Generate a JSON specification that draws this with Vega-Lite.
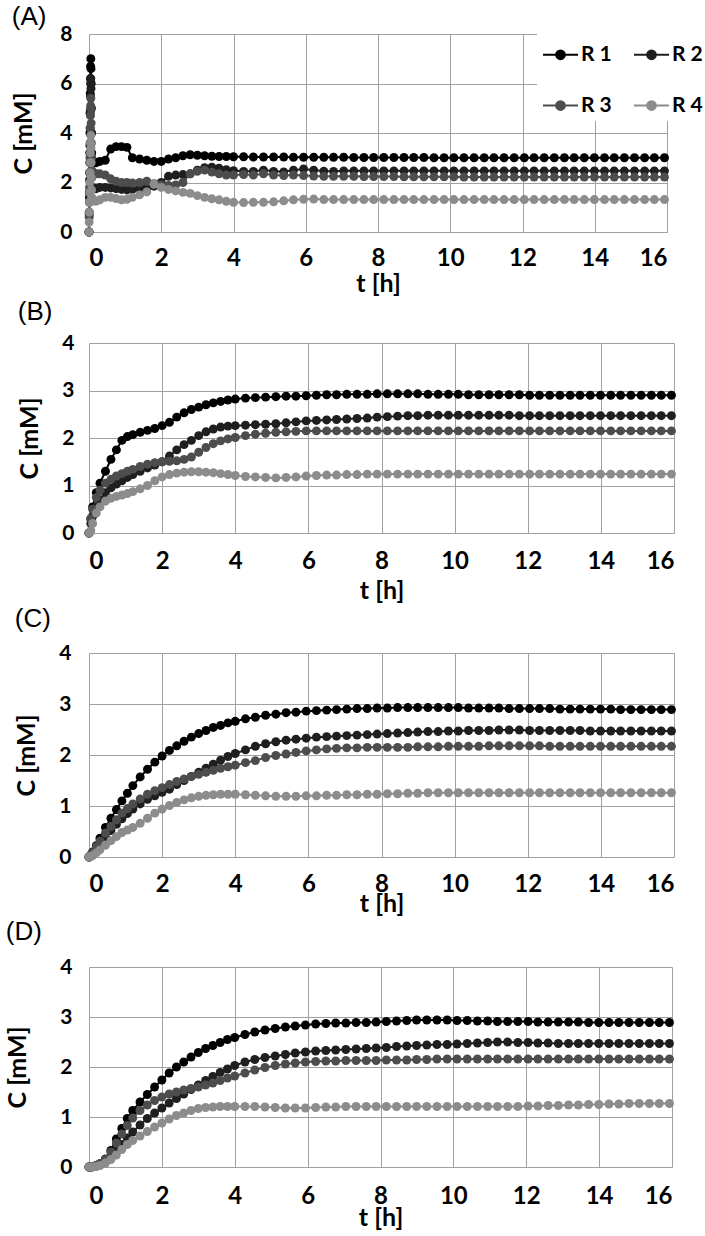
{
"$schema":"https://vega.github.io/schema/vega-lite/v6.json",
"background":"white",
"padding":{"left":5,"top":3,"right":0,"bottom":0},
"spacing":3,
"config":{
"view":{"stroke":null},
"font":"Lato",
"axis":{"domain":false,"ticks":false,"tickSize":0,"grid":true,"gridColor":"#a0a0a0","gridWidth":1,"labelFont":"Lato","labelFontWeight":"bold","labelColor":"#000000","titleFont":"Lato","titleFontWeight":"bold","titleColor":"#000000"},
"axisX":{"labelFontSize":24,"titleFontSize":25},
"axisY":{"labelFontSize":21,"titleFontSize":25},
"title":{"font":"Liberation Sans","fontSize":26,"fontWeight":"normal","anchor":"start","frame":"bounds","color":"#000000","baseline":"bottom"}
},
"datasets":{
"A":[
{"s":"R 1","t":0,"c":0},{"s":"R 1","t":0.005,"c":0.8},{"s":"R 1","t":0.01,"c":1.6},{"s":"R 1","t":0.015,"c":2.4},{"s":"R 1","t":0.02,"c":3.2},{"s":"R 1","t":0.025,"c":4},{"s":"R 1","t":0.03,"c":4.8},{"s":"R 1","t":0.035,"c":5.6},{"s":"R 1","t":0.04,"c":6.2},{"s":"R 1","t":0.045,"c":6.7},{"s":"R 1","t":0.05,"c":7},{"s":"R 1","t":0.055,"c":6.6},{"s":"R 1","t":0.06,"c":6},{"s":"R 1","t":0.065,"c":5},{"s":"R 1","t":0.07,"c":4},{"s":"R 1","t":0.075,"c":3.2},
{"s":"R 1","t":0.1,"c":2.9},{"s":"R 1","t":0.15,"c":2.8},{"s":"R 1","t":0.2,"c":2.8},{"s":"R 1","t":0.3,"c":2.85},{"s":"R 1","t":0.45,"c":2.9},{"s":"R 1","t":0.6,"c":3.35},{"s":"R 1","t":0.75,"c":3.45},{"s":"R 1","t":0.9,"c":3.45},{"s":"R 1","t":1.05,"c":3.42},{"s":"R 1","t":1.2,"c":3},{"s":"R 1","t":1.4,"c":2.95},{"s":"R 1","t":1.6,"c":2.9},{"s":"R 1","t":1.8,"c":2.85},{"s":"R 1","t":2,"c":2.85},{"s":"R 1","t":2.2,"c":2.95},{"s":"R 1","t":2.4,"c":3},{"s":"R 1","t":2.6,"c":3.08},{"s":"R 1","t":2.8,"c":3.12},{"s":"R 1","t":3,"c":3.1},{"s":"R 1","t":3.2,"c":3.08},{"s":"R 1","t":3.4,"c":3.06},{"s":"R 1","t":3.6,"c":3.05},{"s":"R 1","t":3.8,"c":3.05},
{"s":"R 1","t":4,"c":3.04},{"s":"R 1","t":4.28,"c":3.04},{"s":"R 1","t":4.55,"c":3.03},{"s":"R 1","t":4.83,"c":3.03},{"s":"R 1","t":5.11,"c":3.03},{"s":"R 1","t":5.39,"c":3.03},{"s":"R 1","t":5.66,"c":3.02},{"s":"R 1","t":5.94,"c":3.02},{"s":"R 1","t":6.22,"c":3.02},{"s":"R 1","t":6.5,"c":3.02},{"s":"R 1","t":6.77,"c":3.02},{"s":"R 1","t":7.05,"c":3.02},{"s":"R 1","t":7.33,"c":3.01},{"s":"R 1","t":7.61,"c":3.01},{"s":"R 1","t":7.88,"c":3.01},{"s":"R 1","t":8.16,"c":3.01},{"s":"R 1","t":8.44,"c":3.01},{"s":"R 1","t":8.72,"c":3.01},{"s":"R 1","t":8.99,"c":3.01},{"s":"R 1","t":9.27,"c":3.01},{"s":"R 1","t":9.55,"c":3},{"s":"R 1","t":9.83,"c":3},{"s":"R 1","t":10.1,"c":3},{"s":"R 1","t":10.38,"c":3},{"s":"R 1","t":10.66,"c":3},{"s":"R 1","t":10.94,"c":3},{"s":"R 1","t":11.21,"c":3},{"s":"R 1","t":11.49,"c":3},{"s":"R 1","t":11.77,"c":3},{"s":"R 1","t":12.05,"c":3},{"s":"R 1","t":12.32,"c":3},{"s":"R 1","t":12.6,"c":3},{"s":"R 1","t":12.88,"c":3},{"s":"R 1","t":13.16,"c":3},{"s":"R 1","t":13.43,"c":3},{"s":"R 1","t":13.71,"c":3},{"s":"R 1","t":13.99,"c":3},{"s":"R 1","t":14.27,"c":3},{"s":"R 1","t":14.54,"c":3},{"s":"R 1","t":14.82,"c":3},{"s":"R 1","t":15.1,"c":3},{"s":"R 1","t":15.38,"c":3},{"s":"R 1","t":15.65,"c":3},{"s":"R 1","t":15.93,"c":3},
{"s":"R 2","t":0,"c":0},{"s":"R 2","t":0.005,"c":0.7},{"s":"R 2","t":0.01,"c":1.4},{"s":"R 2","t":0.015,"c":2.1},{"s":"R 2","t":0.02,"c":2.8},{"s":"R 2","t":0.025,"c":3.5},{"s":"R 2","t":0.03,"c":4.2},{"s":"R 2","t":0.035,"c":4.9},{"s":"R 2","t":0.04,"c":5.5},{"s":"R 2","t":0.045,"c":6},{"s":"R 2","t":0.05,"c":6.2},{"s":"R 2","t":0.055,"c":5.8},{"s":"R 2","t":0.06,"c":5},{"s":"R 2","t":0.065,"c":4},{"s":"R 2","t":0.07,"c":3},{"s":"R 2","t":0.075,"c":2.2},
{"s":"R 2","t":0.1,"c":1.8},{"s":"R 2","t":0.15,"c":1.75},{"s":"R 2","t":0.2,"c":1.75},{"s":"R 2","t":0.3,"c":1.8},{"s":"R 2","t":0.45,"c":1.8},{"s":"R 2","t":0.6,"c":1.78},{"s":"R 2","t":0.75,"c":1.75},{"s":"R 2","t":0.9,"c":1.72},{"s":"R 2","t":1.05,"c":1.7},{"s":"R 2","t":1.2,"c":1.72},{"s":"R 2","t":1.4,"c":1.75},{"s":"R 2","t":1.6,"c":1.8},{"s":"R 2","t":1.8,"c":1.85},{"s":"R 2","t":2,"c":2},{"s":"R 2","t":2.2,"c":2.25},{"s":"R 2","t":2.4,"c":2.3},{"s":"R 2","t":2.6,"c":2.32},{"s":"R 2","t":2.8,"c":2.35},{"s":"R 2","t":3,"c":2.5},{"s":"R 2","t":3.2,"c":2.6},{"s":"R 2","t":3.4,"c":2.62},{"s":"R 2","t":3.6,"c":2.58},{"s":"R 2","t":3.8,"c":2.52},
{"s":"R 2","t":4,"c":2.48},{"s":"R 2","t":4.28,"c":2.45},{"s":"R 2","t":4.55,"c":2.45},{"s":"R 2","t":4.83,"c":2.5},{"s":"R 2","t":5.11,"c":2.45},{"s":"R 2","t":5.39,"c":2.43},{"s":"R 2","t":5.66,"c":2.5},{"s":"R 2","t":5.94,"c":2.55},{"s":"R 2","t":6.22,"c":2.5},{"s":"R 2","t":6.5,"c":2.46},{"s":"R 2","t":6.77,"c":2.45},{"s":"R 2","t":7.05,"c":2.47},{"s":"R 2","t":7.33,"c":2.47},{"s":"R 2","t":7.61,"c":2.47},{"s":"R 2","t":7.88,"c":2.47},{"s":"R 2","t":8.16,"c":2.47},{"s":"R 2","t":8.44,"c":2.47},{"s":"R 2","t":8.72,"c":2.47},{"s":"R 2","t":8.99,"c":2.47},{"s":"R 2","t":9.27,"c":2.47},{"s":"R 2","t":9.55,"c":2.47},{"s":"R 2","t":9.83,"c":2.47},{"s":"R 2","t":10.1,"c":2.47},{"s":"R 2","t":10.38,"c":2.47},{"s":"R 2","t":10.66,"c":2.47},{"s":"R 2","t":10.94,"c":2.47},{"s":"R 2","t":11.21,"c":2.47},{"s":"R 2","t":11.49,"c":2.47},{"s":"R 2","t":11.77,"c":2.47},{"s":"R 2","t":12.05,"c":2.47},{"s":"R 2","t":12.32,"c":2.47},{"s":"R 2","t":12.6,"c":2.47},{"s":"R 2","t":12.88,"c":2.47},{"s":"R 2","t":13.16,"c":2.47},{"s":"R 2","t":13.43,"c":2.47},{"s":"R 2","t":13.71,"c":2.47},{"s":"R 2","t":13.99,"c":2.47},{"s":"R 2","t":14.27,"c":2.47},{"s":"R 2","t":14.54,"c":2.47},{"s":"R 2","t":14.82,"c":2.47},{"s":"R 2","t":15.1,"c":2.47},{"s":"R 2","t":15.38,"c":2.47},{"s":"R 2","t":15.65,"c":2.47},{"s":"R 2","t":15.93,"c":2.47},
{"s":"R 3","t":0,"c":0},{"s":"R 3","t":0.005,"c":0.6},{"s":"R 3","t":0.01,"c":1.2},{"s":"R 3","t":0.015,"c":1.8},{"s":"R 3","t":0.02,"c":2.4},{"s":"R 3","t":0.025,"c":3},{"s":"R 3","t":0.03,"c":3.6},{"s":"R 3","t":0.035,"c":4.2},{"s":"R 3","t":0.04,"c":4.7},{"s":"R 3","t":0.045,"c":5.1},{"s":"R 3","t":0.05,"c":5.4},{"s":"R 3","t":0.055,"c":5},{"s":"R 3","t":0.06,"c":4.4},{"s":"R 3","t":0.065,"c":3.6},{"s":"R 3","t":0.07,"c":3},{"s":"R 3","t":0.075,"c":2.5},
{"s":"R 3","t":0.1,"c":2.3},{"s":"R 3","t":0.15,"c":2.35},{"s":"R 3","t":0.2,"c":2.35},{"s":"R 3","t":0.3,"c":2.35},{"s":"R 3","t":0.45,"c":2.3},{"s":"R 3","t":0.6,"c":2.15},{"s":"R 3","t":0.75,"c":2.05},{"s":"R 3","t":0.9,"c":2},{"s":"R 3","t":1.05,"c":2},{"s":"R 3","t":1.2,"c":1.98},{"s":"R 3","t":1.4,"c":2},{"s":"R 3","t":1.6,"c":2.05},{"s":"R 3","t":1.8,"c":1.95},{"s":"R 3","t":2,"c":1.9},{"s":"R 3","t":2.2,"c":1.88},{"s":"R 3","t":2.4,"c":1.9},{"s":"R 3","t":2.6,"c":2},{"s":"R 3","t":2.8,"c":2.35},{"s":"R 3","t":3,"c":2.45},{"s":"R 3","t":3.2,"c":2.5},{"s":"R 3","t":3.4,"c":2.42},{"s":"R 3","t":3.6,"c":2.35},{"s":"R 3","t":3.8,"c":2.3},
{"s":"R 3","t":4,"c":2.3},{"s":"R 3","t":4.28,"c":2.32},{"s":"R 3","t":4.55,"c":2.3},{"s":"R 3","t":4.83,"c":2.35},{"s":"R 3","t":5.11,"c":2.3},{"s":"R 3","t":5.39,"c":2.28},{"s":"R 3","t":5.66,"c":2.3},{"s":"R 3","t":5.94,"c":2.28},{"s":"R 3","t":6.22,"c":2.26},{"s":"R 3","t":6.5,"c":2.25},{"s":"R 3","t":6.77,"c":2.25},{"s":"R 3","t":7.05,"c":2.25},{"s":"R 3","t":7.33,"c":2.25},{"s":"R 3","t":7.61,"c":2.24},{"s":"R 3","t":7.88,"c":2.24},{"s":"R 3","t":8.16,"c":2.24},{"s":"R 3","t":8.44,"c":2.24},{"s":"R 3","t":8.72,"c":2.23},{"s":"R 3","t":8.99,"c":2.23},{"s":"R 3","t":9.27,"c":2.23},{"s":"R 3","t":9.55,"c":2.23},{"s":"R 3","t":9.83,"c":2.23},{"s":"R 3","t":10.1,"c":2.23},{"s":"R 3","t":10.38,"c":2.22},{"s":"R 3","t":10.66,"c":2.22},{"s":"R 3","t":10.94,"c":2.22},{"s":"R 3","t":11.21,"c":2.22},{"s":"R 3","t":11.49,"c":2.22},{"s":"R 3","t":11.77,"c":2.22},{"s":"R 3","t":12.05,"c":2.22},{"s":"R 3","t":12.32,"c":2.22},{"s":"R 3","t":12.6,"c":2.22},{"s":"R 3","t":12.88,"c":2.22},{"s":"R 3","t":13.16,"c":2.22},{"s":"R 3","t":13.43,"c":2.22},{"s":"R 3","t":13.71,"c":2.22},{"s":"R 3","t":13.99,"c":2.22},{"s":"R 3","t":14.27,"c":2.22},{"s":"R 3","t":14.54,"c":2.22},{"s":"R 3","t":14.82,"c":2.22},{"s":"R 3","t":15.1,"c":2.22},{"s":"R 3","t":15.38,"c":2.22},{"s":"R 3","t":15.65,"c":2.22},{"s":"R 3","t":15.93,"c":2.22},
{"s":"R 4","t":0,"c":0},{"s":"R 4","t":0.005,"c":0.4},{"s":"R 4","t":0.01,"c":0.8},{"s":"R 4","t":0.015,"c":1.2},{"s":"R 4","t":0.02,"c":1.6},{"s":"R 4","t":0.025,"c":2},{"s":"R 4","t":0.03,"c":2.4},{"s":"R 4","t":0.035,"c":2.8},{"s":"R 4","t":0.04,"c":3.2},{"s":"R 4","t":0.045,"c":3.6},{"s":"R 4","t":0.05,"c":3.9},{"s":"R 4","t":0.055,"c":3.4},{"s":"R 4","t":0.06,"c":2.8},{"s":"R 4","t":0.065,"c":2.2},{"s":"R 4","t":0.07,"c":1.7},{"s":"R 4","t":0.075,"c":1.4},
{"s":"R 4","t":0.1,"c":1.3},{"s":"R 4","t":0.15,"c":1.25},{"s":"R 4","t":0.2,"c":1.25},{"s":"R 4","t":0.3,"c":1.3},{"s":"R 4","t":0.45,"c":1.4},{"s":"R 4","t":0.6,"c":1.4},{"s":"R 4","t":0.75,"c":1.35},{"s":"R 4","t":0.9,"c":1.3},{"s":"R 4","t":1.05,"c":1.32},{"s":"R 4","t":1.2,"c":1.4},{"s":"R 4","t":1.4,"c":1.5},{"s":"R 4","t":1.6,"c":1.62},{"s":"R 4","t":1.8,"c":1.93},{"s":"R 4","t":2,"c":1.8},{"s":"R 4","t":2.2,"c":1.72},{"s":"R 4","t":2.4,"c":1.66},{"s":"R 4","t":2.6,"c":1.6},{"s":"R 4","t":2.8,"c":1.56},{"s":"R 4","t":3,"c":1.47},{"s":"R 4","t":3.2,"c":1.4},{"s":"R 4","t":3.4,"c":1.34},{"s":"R 4","t":3.6,"c":1.3},{"s":"R 4","t":3.8,"c":1.24},
{"s":"R 4","t":4,"c":1.2},{"s":"R 4","t":4.28,"c":1.19},{"s":"R 4","t":4.55,"c":1.2},{"s":"R 4","t":4.83,"c":1.2},{"s":"R 4","t":5.11,"c":1.22},{"s":"R 4","t":5.39,"c":1.26},{"s":"R 4","t":5.66,"c":1.3},{"s":"R 4","t":5.94,"c":1.32},{"s":"R 4","t":6.22,"c":1.33},{"s":"R 4","t":6.5,"c":1.31},{"s":"R 4","t":6.77,"c":1.31},{"s":"R 4","t":7.05,"c":1.31},{"s":"R 4","t":7.33,"c":1.31},{"s":"R 4","t":7.61,"c":1.31},{"s":"R 4","t":7.88,"c":1.31},{"s":"R 4","t":8.16,"c":1.31},{"s":"R 4","t":8.44,"c":1.31},{"s":"R 4","t":8.72,"c":1.31},{"s":"R 4","t":8.99,"c":1.31},{"s":"R 4","t":9.27,"c":1.31},{"s":"R 4","t":9.55,"c":1.31},{"s":"R 4","t":9.83,"c":1.31},{"s":"R 4","t":10.1,"c":1.31},{"s":"R 4","t":10.38,"c":1.31},{"s":"R 4","t":10.66,"c":1.31},{"s":"R 4","t":10.94,"c":1.31},{"s":"R 4","t":11.21,"c":1.31},{"s":"R 4","t":11.49,"c":1.31},{"s":"R 4","t":11.77,"c":1.31},{"s":"R 4","t":12.05,"c":1.31},{"s":"R 4","t":12.32,"c":1.31},{"s":"R 4","t":12.6,"c":1.31},{"s":"R 4","t":12.88,"c":1.31},{"s":"R 4","t":13.16,"c":1.31},{"s":"R 4","t":13.43,"c":1.31},{"s":"R 4","t":13.71,"c":1.31},{"s":"R 4","t":13.99,"c":1.31},{"s":"R 4","t":14.27,"c":1.31},{"s":"R 4","t":14.54,"c":1.31},{"s":"R 4","t":14.82,"c":1.31},{"s":"R 4","t":15.1,"c":1.31},{"s":"R 4","t":15.38,"c":1.31},{"s":"R 4","t":15.65,"c":1.31},{"s":"R 4","t":15.93,"c":1.31}
],
"B":[
{"s":"R 1","t":0,"c":0},{"s":"R 1","t":0.05,"c":0.3},{"s":"R 1","t":0.1,"c":0.55},{"s":"R 1","t":0.2,"c":0.85},{"s":"R 1","t":0.3,"c":1.05},{"s":"R 1","t":0.45,"c":1.3},{"s":"R 1","t":0.6,"c":1.55},{"s":"R 1","t":0.75,"c":1.75},{"s":"R 1","t":0.9,"c":1.95},{"s":"R 1","t":1.05,"c":2.03},{"s":"R 1","t":1.2,"c":2.07},{"s":"R 1","t":1.4,"c":2.12},{"s":"R 1","t":1.6,"c":2.16},{"s":"R 1","t":1.8,"c":2.2},{"s":"R 1","t":2,"c":2.26},{"s":"R 1","t":2.2,"c":2.33},{"s":"R 1","t":2.4,"c":2.44},{"s":"R 1","t":2.6,"c":2.53},{"s":"R 1","t":2.8,"c":2.6},{"s":"R 1","t":3,"c":2.65},{"s":"R 1","t":3.2,"c":2.7},{"s":"R 1","t":3.4,"c":2.74},{"s":"R 1","t":3.6,"c":2.77},{"s":"R 1","t":3.8,"c":2.8},
{"s":"R 1","t":4,"c":2.82},{"s":"R 1","t":4.28,"c":2.84},{"s":"R 1","t":4.55,"c":2.85},{"s":"R 1","t":4.83,"c":2.86},{"s":"R 1","t":5.11,"c":2.87},{"s":"R 1","t":5.39,"c":2.88},{"s":"R 1","t":5.66,"c":2.88},{"s":"R 1","t":5.94,"c":2.89},{"s":"R 1","t":6.22,"c":2.9},{"s":"R 1","t":6.5,"c":2.91},{"s":"R 1","t":6.77,"c":2.91},{"s":"R 1","t":7.05,"c":2.92},{"s":"R 1","t":7.33,"c":2.92},{"s":"R 1","t":7.61,"c":2.92},{"s":"R 1","t":7.88,"c":2.93},{"s":"R 1","t":8.16,"c":2.93},{"s":"R 1","t":8.44,"c":2.93},{"s":"R 1","t":8.72,"c":2.93},{"s":"R 1","t":8.99,"c":2.93},{"s":"R 1","t":9.27,"c":2.92},{"s":"R 1","t":9.55,"c":2.92},{"s":"R 1","t":9.83,"c":2.92},{"s":"R 1","t":10.1,"c":2.92},{"s":"R 1","t":10.38,"c":2.91},{"s":"R 1","t":10.66,"c":2.91},{"s":"R 1","t":10.94,"c":2.91},{"s":"R 1","t":11.21,"c":2.91},{"s":"R 1","t":11.49,"c":2.91},{"s":"R 1","t":11.77,"c":2.91},{"s":"R 1","t":12.05,"c":2.9},{"s":"R 1","t":12.32,"c":2.9},{"s":"R 1","t":12.6,"c":2.9},{"s":"R 1","t":12.88,"c":2.9},{"s":"R 1","t":13.16,"c":2.9},{"s":"R 1","t":13.43,"c":2.9},{"s":"R 1","t":13.71,"c":2.9},{"s":"R 1","t":13.99,"c":2.9},{"s":"R 1","t":14.27,"c":2.9},{"s":"R 1","t":14.54,"c":2.9},{"s":"R 1","t":14.82,"c":2.9},{"s":"R 1","t":15.1,"c":2.9},{"s":"R 1","t":15.38,"c":2.9},{"s":"R 1","t":15.65,"c":2.9},{"s":"R 1","t":15.93,"c":2.9},
{"s":"R 2","t":0,"c":0},{"s":"R 2","t":0.05,"c":0.2},{"s":"R 2","t":0.1,"c":0.35},{"s":"R 2","t":0.2,"c":0.55},{"s":"R 2","t":0.3,"c":0.7},{"s":"R 2","t":0.45,"c":0.85},{"s":"R 2","t":0.6,"c":0.95},{"s":"R 2","t":0.75,"c":1.03},{"s":"R 2","t":0.9,"c":1.1},{"s":"R 2","t":1.05,"c":1.17},{"s":"R 2","t":1.2,"c":1.23},{"s":"R 2","t":1.4,"c":1.3},{"s":"R 2","t":1.6,"c":1.37},{"s":"R 2","t":1.8,"c":1.43},{"s":"R 2","t":2,"c":1.5},{"s":"R 2","t":2.2,"c":1.62},{"s":"R 2","t":2.4,"c":1.75},{"s":"R 2","t":2.6,"c":1.86},{"s":"R 2","t":2.8,"c":1.95},{"s":"R 2","t":3,"c":2.05},{"s":"R 2","t":3.2,"c":2.13},{"s":"R 2","t":3.4,"c":2.19},{"s":"R 2","t":3.6,"c":2.23},{"s":"R 2","t":3.8,"c":2.25},
{"s":"R 2","t":4,"c":2.26},{"s":"R 2","t":4.28,"c":2.27},{"s":"R 2","t":4.55,"c":2.28},{"s":"R 2","t":4.83,"c":2.29},{"s":"R 2","t":5.11,"c":2.3},{"s":"R 2","t":5.39,"c":2.32},{"s":"R 2","t":5.66,"c":2.34},{"s":"R 2","t":5.94,"c":2.36},{"s":"R 2","t":6.22,"c":2.37},{"s":"R 2","t":6.5,"c":2.38},{"s":"R 2","t":6.77,"c":2.39},{"s":"R 2","t":7.05,"c":2.4},{"s":"R 2","t":7.33,"c":2.41},{"s":"R 2","t":7.61,"c":2.42},{"s":"R 2","t":7.88,"c":2.44},{"s":"R 2","t":8.16,"c":2.45},{"s":"R 2","t":8.44,"c":2.46},{"s":"R 2","t":8.72,"c":2.47},{"s":"R 2","t":8.99,"c":2.47},{"s":"R 2","t":9.27,"c":2.48},{"s":"R 2","t":9.55,"c":2.48},{"s":"R 2","t":9.83,"c":2.48},{"s":"R 2","t":10.1,"c":2.48},{"s":"R 2","t":10.38,"c":2.48},{"s":"R 2","t":10.66,"c":2.48},{"s":"R 2","t":10.94,"c":2.48},{"s":"R 2","t":11.21,"c":2.48},{"s":"R 2","t":11.49,"c":2.48},{"s":"R 2","t":11.77,"c":2.47},{"s":"R 2","t":12.05,"c":2.47},{"s":"R 2","t":12.32,"c":2.47},{"s":"R 2","t":12.6,"c":2.47},{"s":"R 2","t":12.88,"c":2.47},{"s":"R 2","t":13.16,"c":2.47},{"s":"R 2","t":13.43,"c":2.47},{"s":"R 2","t":13.71,"c":2.47},{"s":"R 2","t":13.99,"c":2.47},{"s":"R 2","t":14.27,"c":2.47},{"s":"R 2","t":14.54,"c":2.47},{"s":"R 2","t":14.82,"c":2.47},{"s":"R 2","t":15.1,"c":2.47},{"s":"R 2","t":15.38,"c":2.47},{"s":"R 2","t":15.65,"c":2.47},{"s":"R 2","t":15.93,"c":2.47},
{"s":"R 3","t":0,"c":0},{"s":"R 3","t":0.05,"c":0.3},{"s":"R 3","t":0.1,"c":0.5},{"s":"R 3","t":0.2,"c":0.75},{"s":"R 3","t":0.3,"c":0.9},{"s":"R 3","t":0.45,"c":1.05},{"s":"R 3","t":0.6,"c":1.13},{"s":"R 3","t":0.75,"c":1.2},{"s":"R 3","t":0.9,"c":1.25},{"s":"R 3","t":1.05,"c":1.3},{"s":"R 3","t":1.2,"c":1.34},{"s":"R 3","t":1.4,"c":1.4},{"s":"R 3","t":1.6,"c":1.45},{"s":"R 3","t":1.8,"c":1.48},{"s":"R 3","t":2,"c":1.5},{"s":"R 3","t":2.2,"c":1.51},{"s":"R 3","t":2.4,"c":1.52},{"s":"R 3","t":2.6,"c":1.55},{"s":"R 3","t":2.8,"c":1.6},{"s":"R 3","t":3,"c":1.7},{"s":"R 3","t":3.2,"c":1.8},{"s":"R 3","t":3.4,"c":1.88},{"s":"R 3","t":3.6,"c":1.94},{"s":"R 3","t":3.8,"c":1.98},
{"s":"R 3","t":4,"c":2.01},{"s":"R 3","t":4.28,"c":2.05},{"s":"R 3","t":4.55,"c":2.08},{"s":"R 3","t":4.83,"c":2.1},{"s":"R 3","t":5.11,"c":2.12},{"s":"R 3","t":5.39,"c":2.13},{"s":"R 3","t":5.66,"c":2.14},{"s":"R 3","t":5.94,"c":2.15},{"s":"R 3","t":6.22,"c":2.15},{"s":"R 3","t":6.5,"c":2.15},{"s":"R 3","t":6.77,"c":2.15},{"s":"R 3","t":7.05,"c":2.15},{"s":"R 3","t":7.33,"c":2.15},{"s":"R 3","t":7.61,"c":2.15},{"s":"R 3","t":7.88,"c":2.15},{"s":"R 3","t":8.16,"c":2.15},{"s":"R 3","t":8.44,"c":2.15},{"s":"R 3","t":8.72,"c":2.15},{"s":"R 3","t":8.99,"c":2.15},{"s":"R 3","t":9.27,"c":2.15},{"s":"R 3","t":9.55,"c":2.15},{"s":"R 3","t":9.83,"c":2.15},{"s":"R 3","t":10.1,"c":2.15},{"s":"R 3","t":10.38,"c":2.15},{"s":"R 3","t":10.66,"c":2.15},{"s":"R 3","t":10.94,"c":2.15},{"s":"R 3","t":11.21,"c":2.15},{"s":"R 3","t":11.49,"c":2.15},{"s":"R 3","t":11.77,"c":2.15},{"s":"R 3","t":12.05,"c":2.15},{"s":"R 3","t":12.32,"c":2.15},{"s":"R 3","t":12.6,"c":2.15},{"s":"R 3","t":12.88,"c":2.15},{"s":"R 3","t":13.16,"c":2.15},{"s":"R 3","t":13.43,"c":2.15},{"s":"R 3","t":13.71,"c":2.15},{"s":"R 3","t":13.99,"c":2.15},{"s":"R 3","t":14.27,"c":2.15},{"s":"R 3","t":14.54,"c":2.15},{"s":"R 3","t":14.82,"c":2.15},{"s":"R 3","t":15.1,"c":2.15},{"s":"R 3","t":15.38,"c":2.15},{"s":"R 3","t":15.65,"c":2.15},{"s":"R 3","t":15.93,"c":2.15},
{"s":"R 4","t":0,"c":0},{"s":"R 4","t":0.05,"c":0.05},{"s":"R 4","t":0.1,"c":0.2},{"s":"R 4","t":0.2,"c":0.42},{"s":"R 4","t":0.3,"c":0.55},{"s":"R 4","t":0.45,"c":0.67},{"s":"R 4","t":0.6,"c":0.73},{"s":"R 4","t":0.75,"c":0.77},{"s":"R 4","t":0.9,"c":0.8},{"s":"R 4","t":1.05,"c":0.83},{"s":"R 4","t":1.2,"c":0.87},{"s":"R 4","t":1.4,"c":0.93},{"s":"R 4","t":1.6,"c":1},{"s":"R 4","t":1.8,"c":1.1},{"s":"R 4","t":2,"c":1.18},{"s":"R 4","t":2.2,"c":1.23},{"s":"R 4","t":2.4,"c":1.26},{"s":"R 4","t":2.6,"c":1.28},{"s":"R 4","t":2.8,"c":1.29},{"s":"R 4","t":3,"c":1.29},{"s":"R 4","t":3.2,"c":1.28},{"s":"R 4","t":3.4,"c":1.27},{"s":"R 4","t":3.6,"c":1.25},{"s":"R 4","t":3.8,"c":1.23},
{"s":"R 4","t":4,"c":1.21},{"s":"R 4","t":4.28,"c":1.19},{"s":"R 4","t":4.55,"c":1.18},{"s":"R 4","t":4.83,"c":1.17},{"s":"R 4","t":5.11,"c":1.16},{"s":"R 4","t":5.39,"c":1.17},{"s":"R 4","t":5.66,"c":1.18},{"s":"R 4","t":5.94,"c":1.2},{"s":"R 4","t":6.22,"c":1.21},{"s":"R 4","t":6.5,"c":1.22},{"s":"R 4","t":6.77,"c":1.22},{"s":"R 4","t":7.05,"c":1.23},{"s":"R 4","t":7.33,"c":1.23},{"s":"R 4","t":7.61,"c":1.24},{"s":"R 4","t":7.88,"c":1.24},{"s":"R 4","t":8.16,"c":1.24},{"s":"R 4","t":8.44,"c":1.24},{"s":"R 4","t":8.72,"c":1.24},{"s":"R 4","t":8.99,"c":1.24},{"s":"R 4","t":9.27,"c":1.24},{"s":"R 4","t":9.55,"c":1.24},{"s":"R 4","t":9.83,"c":1.24},{"s":"R 4","t":10.1,"c":1.24},{"s":"R 4","t":10.38,"c":1.24},{"s":"R 4","t":10.66,"c":1.24},{"s":"R 4","t":10.94,"c":1.24},{"s":"R 4","t":11.21,"c":1.24},{"s":"R 4","t":11.49,"c":1.24},{"s":"R 4","t":11.77,"c":1.24},{"s":"R 4","t":12.05,"c":1.24},{"s":"R 4","t":12.32,"c":1.24},{"s":"R 4","t":12.6,"c":1.24},{"s":"R 4","t":12.88,"c":1.24},{"s":"R 4","t":13.16,"c":1.24},{"s":"R 4","t":13.43,"c":1.24},{"s":"R 4","t":13.71,"c":1.24},{"s":"R 4","t":13.99,"c":1.24},{"s":"R 4","t":14.27,"c":1.24},{"s":"R 4","t":14.54,"c":1.24},{"s":"R 4","t":14.82,"c":1.24},{"s":"R 4","t":15.1,"c":1.24},{"s":"R 4","t":15.38,"c":1.24},{"s":"R 4","t":15.65,"c":1.24},{"s":"R 4","t":15.93,"c":1.24}
],
"C":[
{"s":"R 1","t":0,"c":0},{"s":"R 1","t":0.05,"c":0.04},{"s":"R 1","t":0.1,"c":0.1},{"s":"R 1","t":0.2,"c":0.22},{"s":"R 1","t":0.3,"c":0.37},{"s":"R 1","t":0.45,"c":0.58},{"s":"R 1","t":0.6,"c":0.76},{"s":"R 1","t":0.75,"c":0.93},{"s":"R 1","t":0.9,"c":1.1},{"s":"R 1","t":1.05,"c":1.25},{"s":"R 1","t":1.2,"c":1.4},{"s":"R 1","t":1.4,"c":1.57},{"s":"R 1","t":1.6,"c":1.72},{"s":"R 1","t":1.8,"c":1.86},{"s":"R 1","t":2,"c":1.98},{"s":"R 1","t":2.2,"c":2.09},{"s":"R 1","t":2.4,"c":2.18},{"s":"R 1","t":2.6,"c":2.27},{"s":"R 1","t":2.8,"c":2.35},{"s":"R 1","t":3,"c":2.42},{"s":"R 1","t":3.2,"c":2.48},{"s":"R 1","t":3.4,"c":2.54},{"s":"R 1","t":3.6,"c":2.58},{"s":"R 1","t":3.8,"c":2.63},
{"s":"R 1","t":4,"c":2.66},{"s":"R 1","t":4.28,"c":2.71},{"s":"R 1","t":4.55,"c":2.74},{"s":"R 1","t":4.83,"c":2.78},{"s":"R 1","t":5.11,"c":2.8},{"s":"R 1","t":5.39,"c":2.83},{"s":"R 1","t":5.66,"c":2.84},{"s":"R 1","t":5.94,"c":2.86},{"s":"R 1","t":6.22,"c":2.87},{"s":"R 1","t":6.5,"c":2.88},{"s":"R 1","t":6.77,"c":2.89},{"s":"R 1","t":7.05,"c":2.9},{"s":"R 1","t":7.33,"c":2.91},{"s":"R 1","t":7.61,"c":2.91},{"s":"R 1","t":7.88,"c":2.92},{"s":"R 1","t":8.16,"c":2.92},{"s":"R 1","t":8.44,"c":2.93},{"s":"R 1","t":8.72,"c":2.93},{"s":"R 1","t":8.99,"c":2.93},{"s":"R 1","t":9.27,"c":2.93},{"s":"R 1","t":9.55,"c":2.93},{"s":"R 1","t":9.83,"c":2.93},{"s":"R 1","t":10.1,"c":2.93},{"s":"R 1","t":10.38,"c":2.92},{"s":"R 1","t":10.66,"c":2.92},{"s":"R 1","t":10.94,"c":2.92},{"s":"R 1","t":11.21,"c":2.92},{"s":"R 1","t":11.49,"c":2.91},{"s":"R 1","t":11.77,"c":2.91},{"s":"R 1","t":12.05,"c":2.91},{"s":"R 1","t":12.32,"c":2.91},{"s":"R 1","t":12.6,"c":2.91},{"s":"R 1","t":12.88,"c":2.9},{"s":"R 1","t":13.16,"c":2.9},{"s":"R 1","t":13.43,"c":2.9},{"s":"R 1","t":13.71,"c":2.9},{"s":"R 1","t":13.99,"c":2.9},{"s":"R 1","t":14.27,"c":2.9},{"s":"R 1","t":14.54,"c":2.89},{"s":"R 1","t":14.82,"c":2.89},{"s":"R 1","t":15.1,"c":2.89},{"s":"R 1","t":15.38,"c":2.89},{"s":"R 1","t":15.65,"c":2.89},{"s":"R 1","t":15.93,"c":2.89},
{"s":"R 2","t":0,"c":0},{"s":"R 2","t":0.05,"c":0.03},{"s":"R 2","t":0.1,"c":0.07},{"s":"R 2","t":0.2,"c":0.16},{"s":"R 2","t":0.3,"c":0.26},{"s":"R 2","t":0.45,"c":0.4},{"s":"R 2","t":0.6,"c":0.52},{"s":"R 2","t":0.75,"c":0.64},{"s":"R 2","t":0.9,"c":0.75},{"s":"R 2","t":1.05,"c":0.85},{"s":"R 2","t":1.2,"c":0.94},{"s":"R 2","t":1.4,"c":1.04},{"s":"R 2","t":1.6,"c":1.13},{"s":"R 2","t":1.8,"c":1.2},{"s":"R 2","t":2,"c":1.27},{"s":"R 2","t":2.2,"c":1.33},{"s":"R 2","t":2.4,"c":1.42},{"s":"R 2","t":2.6,"c":1.5},{"s":"R 2","t":2.8,"c":1.58},{"s":"R 2","t":3,"c":1.66},{"s":"R 2","t":3.2,"c":1.74},{"s":"R 2","t":3.4,"c":1.82},{"s":"R 2","t":3.6,"c":1.9},{"s":"R 2","t":3.8,"c":1.97},
{"s":"R 2","t":4,"c":2.03},{"s":"R 2","t":4.28,"c":2.1},{"s":"R 2","t":4.55,"c":2.17},{"s":"R 2","t":4.83,"c":2.22},{"s":"R 2","t":5.11,"c":2.26},{"s":"R 2","t":5.39,"c":2.29},{"s":"R 2","t":5.66,"c":2.31},{"s":"R 2","t":5.94,"c":2.33},{"s":"R 2","t":6.22,"c":2.35},{"s":"R 2","t":6.5,"c":2.36},{"s":"R 2","t":6.77,"c":2.37},{"s":"R 2","t":7.05,"c":2.38},{"s":"R 2","t":7.33,"c":2.39},{"s":"R 2","t":7.61,"c":2.4},{"s":"R 2","t":7.88,"c":2.41},{"s":"R 2","t":8.16,"c":2.42},{"s":"R 2","t":8.44,"c":2.43},{"s":"R 2","t":8.72,"c":2.44},{"s":"R 2","t":8.99,"c":2.45},{"s":"R 2","t":9.27,"c":2.46},{"s":"R 2","t":9.55,"c":2.46},{"s":"R 2","t":9.83,"c":2.47},{"s":"R 2","t":10.1,"c":2.47},{"s":"R 2","t":10.38,"c":2.48},{"s":"R 2","t":10.66,"c":2.48},{"s":"R 2","t":10.94,"c":2.48},{"s":"R 2","t":11.21,"c":2.49},{"s":"R 2","t":11.49,"c":2.49},{"s":"R 2","t":11.77,"c":2.49},{"s":"R 2","t":12.05,"c":2.48},{"s":"R 2","t":12.32,"c":2.48},{"s":"R 2","t":12.6,"c":2.48},{"s":"R 2","t":12.88,"c":2.48},{"s":"R 2","t":13.16,"c":2.48},{"s":"R 2","t":13.43,"c":2.48},{"s":"R 2","t":13.71,"c":2.47},{"s":"R 2","t":13.99,"c":2.47},{"s":"R 2","t":14.27,"c":2.47},{"s":"R 2","t":14.54,"c":2.47},{"s":"R 2","t":14.82,"c":2.47},{"s":"R 2","t":15.1,"c":2.47},{"s":"R 2","t":15.38,"c":2.47},{"s":"R 2","t":15.65,"c":2.47},{"s":"R 2","t":15.93,"c":2.47},
{"s":"R 3","t":0,"c":0},{"s":"R 3","t":0.05,"c":0.04},{"s":"R 3","t":0.1,"c":0.09},{"s":"R 3","t":0.2,"c":0.2},{"s":"R 3","t":0.3,"c":0.31},{"s":"R 3","t":0.45,"c":0.47},{"s":"R 3","t":0.6,"c":0.6},{"s":"R 3","t":0.75,"c":0.73},{"s":"R 3","t":0.9,"c":0.86},{"s":"R 3","t":1.05,"c":0.95},{"s":"R 3","t":1.2,"c":1.04},{"s":"R 3","t":1.4,"c":1.14},{"s":"R 3","t":1.6,"c":1.23},{"s":"R 3","t":1.8,"c":1.3},{"s":"R 3","t":2,"c":1.36},{"s":"R 3","t":2.2,"c":1.42},{"s":"R 3","t":2.4,"c":1.48},{"s":"R 3","t":2.6,"c":1.53},{"s":"R 3","t":2.8,"c":1.58},{"s":"R 3","t":3,"c":1.62},{"s":"R 3","t":3.2,"c":1.66},{"s":"R 3","t":3.4,"c":1.7},{"s":"R 3","t":3.6,"c":1.74},{"s":"R 3","t":3.8,"c":1.77},
{"s":"R 3","t":4,"c":1.8},{"s":"R 3","t":4.28,"c":1.85},{"s":"R 3","t":4.55,"c":1.89},{"s":"R 3","t":4.83,"c":1.95},{"s":"R 3","t":5.11,"c":1.99},{"s":"R 3","t":5.39,"c":2.02},{"s":"R 3","t":5.66,"c":2.05},{"s":"R 3","t":5.94,"c":2.08},{"s":"R 3","t":6.22,"c":2.1},{"s":"R 3","t":6.5,"c":2.12},{"s":"R 3","t":6.77,"c":2.13},{"s":"R 3","t":7.05,"c":2.14},{"s":"R 3","t":7.33,"c":2.14},{"s":"R 3","t":7.61,"c":2.15},{"s":"R 3","t":7.88,"c":2.15},{"s":"R 3","t":8.16,"c":2.15},{"s":"R 3","t":8.44,"c":2.15},{"s":"R 3","t":8.72,"c":2.15},{"s":"R 3","t":8.99,"c":2.16},{"s":"R 3","t":9.27,"c":2.16},{"s":"R 3","t":9.55,"c":2.16},{"s":"R 3","t":9.83,"c":2.17},{"s":"R 3","t":10.1,"c":2.17},{"s":"R 3","t":10.38,"c":2.17},{"s":"R 3","t":10.66,"c":2.17},{"s":"R 3","t":10.94,"c":2.18},{"s":"R 3","t":11.21,"c":2.18},{"s":"R 3","t":11.49,"c":2.18},{"s":"R 3","t":11.77,"c":2.18},{"s":"R 3","t":12.05,"c":2.18},{"s":"R 3","t":12.32,"c":2.18},{"s":"R 3","t":12.6,"c":2.17},{"s":"R 3","t":12.88,"c":2.17},{"s":"R 3","t":13.16,"c":2.17},{"s":"R 3","t":13.43,"c":2.17},{"s":"R 3","t":13.71,"c":2.17},{"s":"R 3","t":13.99,"c":2.17},{"s":"R 3","t":14.27,"c":2.17},{"s":"R 3","t":14.54,"c":2.17},{"s":"R 3","t":14.82,"c":2.17},{"s":"R 3","t":15.1,"c":2.17},{"s":"R 3","t":15.38,"c":2.17},{"s":"R 3","t":15.65,"c":2.17},{"s":"R 3","t":15.93,"c":2.17},
{"s":"R 4","t":0,"c":0},{"s":"R 4","t":0.05,"c":0.01},{"s":"R 4","t":0.1,"c":0.03},{"s":"R 4","t":0.2,"c":0.08},{"s":"R 4","t":0.3,"c":0.14},{"s":"R 4","t":0.45,"c":0.23},{"s":"R 4","t":0.6,"c":0.32},{"s":"R 4","t":0.75,"c":0.4},{"s":"R 4","t":0.9,"c":0.48},{"s":"R 4","t":1.05,"c":0.53},{"s":"R 4","t":1.2,"c":0.58},{"s":"R 4","t":1.4,"c":0.66},{"s":"R 4","t":1.6,"c":0.76},{"s":"R 4","t":1.8,"c":0.86},{"s":"R 4","t":2,"c":0.94},{"s":"R 4","t":2.2,"c":1.01},{"s":"R 4","t":2.4,"c":1.07},{"s":"R 4","t":2.6,"c":1.12},{"s":"R 4","t":2.8,"c":1.16},{"s":"R 4","t":3,"c":1.19},{"s":"R 4","t":3.2,"c":1.21},{"s":"R 4","t":3.4,"c":1.22},{"s":"R 4","t":3.6,"c":1.23},{"s":"R 4","t":3.8,"c":1.23},
{"s":"R 4","t":4,"c":1.23},{"s":"R 4","t":4.28,"c":1.22},{"s":"R 4","t":4.55,"c":1.21},{"s":"R 4","t":4.83,"c":1.2},{"s":"R 4","t":5.11,"c":1.19},{"s":"R 4","t":5.39,"c":1.19},{"s":"R 4","t":5.66,"c":1.19},{"s":"R 4","t":5.94,"c":1.2},{"s":"R 4","t":6.22,"c":1.2},{"s":"R 4","t":6.5,"c":1.21},{"s":"R 4","t":6.77,"c":1.21},{"s":"R 4","t":7.05,"c":1.22},{"s":"R 4","t":7.33,"c":1.22},{"s":"R 4","t":7.61,"c":1.23},{"s":"R 4","t":7.88,"c":1.23},{"s":"R 4","t":8.16,"c":1.24},{"s":"R 4","t":8.44,"c":1.24},{"s":"R 4","t":8.72,"c":1.25},{"s":"R 4","t":8.99,"c":1.25},{"s":"R 4","t":9.27,"c":1.26},{"s":"R 4","t":9.55,"c":1.26},{"s":"R 4","t":9.83,"c":1.26},{"s":"R 4","t":10.1,"c":1.26},{"s":"R 4","t":10.38,"c":1.26},{"s":"R 4","t":10.66,"c":1.26},{"s":"R 4","t":10.94,"c":1.26},{"s":"R 4","t":11.21,"c":1.26},{"s":"R 4","t":11.49,"c":1.26},{"s":"R 4","t":11.77,"c":1.26},{"s":"R 4","t":12.05,"c":1.26},{"s":"R 4","t":12.32,"c":1.26},{"s":"R 4","t":12.6,"c":1.26},{"s":"R 4","t":12.88,"c":1.26},{"s":"R 4","t":13.16,"c":1.26},{"s":"R 4","t":13.43,"c":1.26},{"s":"R 4","t":13.71,"c":1.26},{"s":"R 4","t":13.99,"c":1.26},{"s":"R 4","t":14.27,"c":1.26},{"s":"R 4","t":14.54,"c":1.26},{"s":"R 4","t":14.82,"c":1.26},{"s":"R 4","t":15.1,"c":1.26},{"s":"R 4","t":15.38,"c":1.26},{"s":"R 4","t":15.65,"c":1.26},{"s":"R 4","t":15.93,"c":1.26}
],
"D":[
{"s":"R 1","t":0,"c":0},{"s":"R 1","t":0.05,"c":0},{"s":"R 1","t":0.1,"c":0.01},{"s":"R 1","t":0.2,"c":0.03},{"s":"R 1","t":0.3,"c":0.06},{"s":"R 1","t":0.45,"c":0.16},{"s":"R 1","t":0.6,"c":0.33},{"s":"R 1","t":0.75,"c":0.56},{"s":"R 1","t":0.9,"c":0.77},{"s":"R 1","t":1.05,"c":0.97},{"s":"R 1","t":1.2,"c":1.13},{"s":"R 1","t":1.4,"c":1.3},{"s":"R 1","t":1.6,"c":1.45},{"s":"R 1","t":1.8,"c":1.6},{"s":"R 1","t":2,"c":1.74},{"s":"R 1","t":2.2,"c":1.88},{"s":"R 1","t":2.4,"c":2},{"s":"R 1","t":2.6,"c":2.1},{"s":"R 1","t":2.8,"c":2.2},{"s":"R 1","t":3,"c":2.29},{"s":"R 1","t":3.2,"c":2.37},{"s":"R 1","t":3.4,"c":2.43},{"s":"R 1","t":3.6,"c":2.49},{"s":"R 1","t":3.8,"c":2.55},
{"s":"R 1","t":4,"c":2.59},{"s":"R 1","t":4.28,"c":2.65},{"s":"R 1","t":4.55,"c":2.7},{"s":"R 1","t":4.83,"c":2.74},{"s":"R 1","t":5.11,"c":2.77},{"s":"R 1","t":5.39,"c":2.8},{"s":"R 1","t":5.66,"c":2.82},{"s":"R 1","t":5.94,"c":2.84},{"s":"R 1","t":6.22,"c":2.86},{"s":"R 1","t":6.5,"c":2.87},{"s":"R 1","t":6.77,"c":2.88},{"s":"R 1","t":7.05,"c":2.88},{"s":"R 1","t":7.33,"c":2.89},{"s":"R 1","t":7.61,"c":2.89},{"s":"R 1","t":7.88,"c":2.9},{"s":"R 1","t":8.16,"c":2.91},{"s":"R 1","t":8.44,"c":2.92},{"s":"R 1","t":8.72,"c":2.93},{"s":"R 1","t":8.99,"c":2.94},{"s":"R 1","t":9.27,"c":2.94},{"s":"R 1","t":9.55,"c":2.94},{"s":"R 1","t":9.83,"c":2.94},{"s":"R 1","t":10.1,"c":2.93},{"s":"R 1","t":10.38,"c":2.93},{"s":"R 1","t":10.66,"c":2.92},{"s":"R 1","t":10.94,"c":2.92},{"s":"R 1","t":11.21,"c":2.91},{"s":"R 1","t":11.49,"c":2.91},{"s":"R 1","t":11.77,"c":2.91},{"s":"R 1","t":12.05,"c":2.91},{"s":"R 1","t":12.32,"c":2.9},{"s":"R 1","t":12.6,"c":2.9},{"s":"R 1","t":12.88,"c":2.9},{"s":"R 1","t":13.16,"c":2.9},{"s":"R 1","t":13.43,"c":2.9},{"s":"R 1","t":13.71,"c":2.89},{"s":"R 1","t":13.99,"c":2.89},{"s":"R 1","t":14.27,"c":2.89},{"s":"R 1","t":14.54,"c":2.89},{"s":"R 1","t":14.82,"c":2.89},{"s":"R 1","t":15.1,"c":2.89},{"s":"R 1","t":15.38,"c":2.89},{"s":"R 1","t":15.65,"c":2.89},{"s":"R 1","t":15.93,"c":2.89},
{"s":"R 2","t":0,"c":0},{"s":"R 2","t":0.05,"c":0},{"s":"R 2","t":0.1,"c":0.01},{"s":"R 2","t":0.2,"c":0.02},{"s":"R 2","t":0.3,"c":0.05},{"s":"R 2","t":0.45,"c":0.11},{"s":"R 2","t":0.6,"c":0.2},{"s":"R 2","t":0.75,"c":0.32},{"s":"R 2","t":0.9,"c":0.45},{"s":"R 2","t":1.05,"c":0.58},{"s":"R 2","t":1.2,"c":0.7},{"s":"R 2","t":1.4,"c":0.84},{"s":"R 2","t":1.6,"c":0.97},{"s":"R 2","t":1.8,"c":1.08},{"s":"R 2","t":2,"c":1.18},{"s":"R 2","t":2.2,"c":1.28},{"s":"R 2","t":2.4,"c":1.37},{"s":"R 2","t":2.6,"c":1.46},{"s":"R 2","t":2.8,"c":1.55},{"s":"R 2","t":3,"c":1.64},{"s":"R 2","t":3.2,"c":1.73},{"s":"R 2","t":3.4,"c":1.81},{"s":"R 2","t":3.6,"c":1.89},{"s":"R 2","t":3.8,"c":1.96},
{"s":"R 2","t":4,"c":2.03},{"s":"R 2","t":4.28,"c":2.1},{"s":"R 2","t":4.55,"c":2.15},{"s":"R 2","t":4.83,"c":2.19},{"s":"R 2","t":5.11,"c":2.22},{"s":"R 2","t":5.39,"c":2.25},{"s":"R 2","t":5.66,"c":2.28},{"s":"R 2","t":5.94,"c":2.3},{"s":"R 2","t":6.22,"c":2.32},{"s":"R 2","t":6.5,"c":2.33},{"s":"R 2","t":6.77,"c":2.34},{"s":"R 2","t":7.05,"c":2.35},{"s":"R 2","t":7.33,"c":2.36},{"s":"R 2","t":7.61,"c":2.37},{"s":"R 2","t":7.88,"c":2.38},{"s":"R 2","t":8.16,"c":2.39},{"s":"R 2","t":8.44,"c":2.41},{"s":"R 2","t":8.72,"c":2.42},{"s":"R 2","t":8.99,"c":2.43},{"s":"R 2","t":9.27,"c":2.44},{"s":"R 2","t":9.55,"c":2.45},{"s":"R 2","t":9.83,"c":2.45},{"s":"R 2","t":10.1,"c":2.46},{"s":"R 2","t":10.38,"c":2.47},{"s":"R 2","t":10.66,"c":2.48},{"s":"R 2","t":10.94,"c":2.49},{"s":"R 2","t":11.21,"c":2.5},{"s":"R 2","t":11.49,"c":2.5},{"s":"R 2","t":11.77,"c":2.49},{"s":"R 2","t":12.05,"c":2.49},{"s":"R 2","t":12.32,"c":2.48},{"s":"R 2","t":12.6,"c":2.48},{"s":"R 2","t":12.88,"c":2.47},{"s":"R 2","t":13.16,"c":2.47},{"s":"R 2","t":13.43,"c":2.47},{"s":"R 2","t":13.71,"c":2.47},{"s":"R 2","t":13.99,"c":2.47},{"s":"R 2","t":14.27,"c":2.47},{"s":"R 2","t":14.54,"c":2.47},{"s":"R 2","t":14.82,"c":2.47},{"s":"R 2","t":15.1,"c":2.47},{"s":"R 2","t":15.38,"c":2.47},{"s":"R 2","t":15.65,"c":2.47},{"s":"R 2","t":15.93,"c":2.47},
{"s":"R 3","t":0,"c":0},{"s":"R 3","t":0.05,"c":0},{"s":"R 3","t":0.1,"c":0.01},{"s":"R 3","t":0.2,"c":0.03},{"s":"R 3","t":0.3,"c":0.07},{"s":"R 3","t":0.45,"c":0.15},{"s":"R 3","t":0.6,"c":0.3},{"s":"R 3","t":0.75,"c":0.48},{"s":"R 3","t":0.9,"c":0.66},{"s":"R 3","t":1.05,"c":0.83},{"s":"R 3","t":1.2,"c":0.98},{"s":"R 3","t":1.4,"c":1.13},{"s":"R 3","t":1.6,"c":1.24},{"s":"R 3","t":1.8,"c":1.33},{"s":"R 3","t":2,"c":1.4},{"s":"R 3","t":2.2,"c":1.46},{"s":"R 3","t":2.4,"c":1.5},{"s":"R 3","t":2.6,"c":1.54},{"s":"R 3","t":2.8,"c":1.57},{"s":"R 3","t":3,"c":1.6},{"s":"R 3","t":3.2,"c":1.64},{"s":"R 3","t":3.4,"c":1.68},{"s":"R 3","t":3.6,"c":1.73},{"s":"R 3","t":3.8,"c":1.78},
{"s":"R 3","t":4,"c":1.82},{"s":"R 3","t":4.28,"c":1.88},{"s":"R 3","t":4.55,"c":1.94},{"s":"R 3","t":4.83,"c":1.99},{"s":"R 3","t":5.11,"c":2.03},{"s":"R 3","t":5.39,"c":2.06},{"s":"R 3","t":5.66,"c":2.08},{"s":"R 3","t":5.94,"c":2.1},{"s":"R 3","t":6.22,"c":2.11},{"s":"R 3","t":6.5,"c":2.12},{"s":"R 3","t":6.77,"c":2.12},{"s":"R 3","t":7.05,"c":2.13},{"s":"R 3","t":7.33,"c":2.13},{"s":"R 3","t":7.61,"c":2.13},{"s":"R 3","t":7.88,"c":2.13},{"s":"R 3","t":8.16,"c":2.14},{"s":"R 3","t":8.44,"c":2.14},{"s":"R 3","t":8.72,"c":2.14},{"s":"R 3","t":8.99,"c":2.15},{"s":"R 3","t":9.27,"c":2.15},{"s":"R 3","t":9.55,"c":2.16},{"s":"R 3","t":9.83,"c":2.16},{"s":"R 3","t":10.1,"c":2.16},{"s":"R 3","t":10.38,"c":2.16},{"s":"R 3","t":10.66,"c":2.16},{"s":"R 3","t":10.94,"c":2.16},{"s":"R 3","t":11.21,"c":2.16},{"s":"R 3","t":11.49,"c":2.16},{"s":"R 3","t":11.77,"c":2.16},{"s":"R 3","t":12.05,"c":2.16},{"s":"R 3","t":12.32,"c":2.16},{"s":"R 3","t":12.6,"c":2.16},{"s":"R 3","t":12.88,"c":2.16},{"s":"R 3","t":13.16,"c":2.16},{"s":"R 3","t":13.43,"c":2.16},{"s":"R 3","t":13.71,"c":2.16},{"s":"R 3","t":13.99,"c":2.16},{"s":"R 3","t":14.27,"c":2.16},{"s":"R 3","t":14.54,"c":2.16},{"s":"R 3","t":14.82,"c":2.16},{"s":"R 3","t":15.1,"c":2.16},{"s":"R 3","t":15.38,"c":2.16},{"s":"R 3","t":15.65,"c":2.16},{"s":"R 3","t":15.93,"c":2.16},
{"s":"R 4","t":0,"c":0},{"s":"R 4","t":0.05,"c":0},{"s":"R 4","t":0.1,"c":0},{"s":"R 4","t":0.2,"c":0.01},{"s":"R 4","t":0.3,"c":0.03},{"s":"R 4","t":0.45,"c":0.08},{"s":"R 4","t":0.6,"c":0.15},{"s":"R 4","t":0.75,"c":0.24},{"s":"R 4","t":0.9,"c":0.35},{"s":"R 4","t":1.05,"c":0.45},{"s":"R 4","t":1.2,"c":0.53},{"s":"R 4","t":1.4,"c":0.62},{"s":"R 4","t":1.6,"c":0.71},{"s":"R 4","t":1.8,"c":0.8},{"s":"R 4","t":2,"c":0.88},{"s":"R 4","t":2.2,"c":0.96},{"s":"R 4","t":2.4,"c":1.03},{"s":"R 4","t":2.6,"c":1.08},{"s":"R 4","t":2.8,"c":1.13},{"s":"R 4","t":3,"c":1.17},{"s":"R 4","t":3.2,"c":1.19},{"s":"R 4","t":3.4,"c":1.2},{"s":"R 4","t":3.6,"c":1.21},{"s":"R 4","t":3.8,"c":1.21},
{"s":"R 4","t":4,"c":1.21},{"s":"R 4","t":4.28,"c":1.21},{"s":"R 4","t":4.55,"c":1.21},{"s":"R 4","t":4.83,"c":1.2},{"s":"R 4","t":5.11,"c":1.19},{"s":"R 4","t":5.39,"c":1.18},{"s":"R 4","t":5.66,"c":1.18},{"s":"R 4","t":5.94,"c":1.18},{"s":"R 4","t":6.22,"c":1.19},{"s":"R 4","t":6.5,"c":1.2},{"s":"R 4","t":6.77,"c":1.2},{"s":"R 4","t":7.05,"c":1.21},{"s":"R 4","t":7.33,"c":1.21},{"s":"R 4","t":7.61,"c":1.21},{"s":"R 4","t":7.88,"c":1.21},{"s":"R 4","t":8.16,"c":1.21},{"s":"R 4","t":8.44,"c":1.21},{"s":"R 4","t":8.72,"c":1.21},{"s":"R 4","t":8.99,"c":1.21},{"s":"R 4","t":9.27,"c":1.21},{"s":"R 4","t":9.55,"c":1.21},{"s":"R 4","t":9.83,"c":1.21},{"s":"R 4","t":10.1,"c":1.21},{"s":"R 4","t":10.38,"c":1.21},{"s":"R 4","t":10.66,"c":1.21},{"s":"R 4","t":10.94,"c":1.21},{"s":"R 4","t":11.21,"c":1.21},{"s":"R 4","t":11.49,"c":1.21},{"s":"R 4","t":11.77,"c":1.21},{"s":"R 4","t":12.05,"c":1.22},{"s":"R 4","t":12.32,"c":1.22},{"s":"R 4","t":12.6,"c":1.23},{"s":"R 4","t":12.88,"c":1.23},{"s":"R 4","t":13.16,"c":1.24},{"s":"R 4","t":13.43,"c":1.24},{"s":"R 4","t":13.71,"c":1.25},{"s":"R 4","t":13.99,"c":1.25},{"s":"R 4","t":14.27,"c":1.26},{"s":"R 4","t":14.54,"c":1.26},{"s":"R 4","t":14.82,"c":1.27},{"s":"R 4","t":15.1,"c":1.27},{"s":"R 4","t":15.38,"c":1.27},{"s":"R 4","t":15.65,"c":1.27},{"s":"R 4","t":15.93,"c":1.27}
]
},
"vconcat":[
{"title":{"text":"(A)","offset":-6.5},"width":578,"height":198,"data":{"name":"A"},
"encoding":{
"x":{"field":"t","type":"quantitative","scale":{"domain":[0,16],"nice":false},"axis":{"values":[0,2,4,6,8,10,12,14,16],"title":"t [h]","labelPadding":14,"titlePadding":1}},
"y":{"field":"c","type":"quantitative","scale":{"domain":[0,8],"nice":false},"axis":{"values":[0,2,4,6,8],"title":"C [mM]","labelPadding":17,"titlePadding":23}},
"color":{"field":"s","type":"nominal","scale":{"domain":["R 1","R 2","R 3","R 4"],"range":["#000000","#1f1f1f","#4d4d4d","#8c8c8c"]},
"legend":{"orient":"none","legendX":448,"legendY":-3,"direction":"horizontal","columns":2,"title":null,"symbolType":"M-1,0L1,0M-0.25,0A0.25,0.25,0,1,1,0.25,0A0.25,0.25,0,1,1,-0.25,0Z","symbolSize":1225,"symbolStrokeWidth":2,"labelFont":"Lato","labelFontWeight":"bold","labelFontSize":21,"labelColor":"#000000","labelOffset":2,"columnPadding":18,"rowPadding":22,"fillColor":"white","padding":5,"symbolOpacity":1,
"encode":{"symbols":{"update":{"fill":[{"test":"datum.value === 'R 1'","value":"#000000"},{"test":"datum.value === 'R 2'","value":"#1f1f1f"},{"test":"datum.value === 'R 3'","value":"#4d4d4d"},{"value":"#8c8c8c"}],"stroke":[{"test":"datum.value === 'R 1'","value":"#000000"},{"test":"datum.value === 'R 2'","value":"#1f1f1f"},{"test":"datum.value === 'R 3'","value":"#4d4d4d"},{"value":"#8c8c8c"}],"strokeWidth":{"value":2},"opacity":{"value":1}}}}}}},
"layer":[{"mark":{"type":"line","strokeWidth":2},"encoding":{}},{"mark":{"type":"point","filled":true,"size":80,"opacity":1,"strokeWidth":0},"encoding":{}}]},
{"title":{"text":"(B)","offset":7},"width":585,"height":190,"data":{"name":"B"},
"encoding":{
"x":{"field":"t","type":"quantitative","scale":{"domain":[0,16],"nice":false},"axis":{"values":[0,2,4,6,8,10,12,14,16],"title":"t [h]","labelPadding":16,"titlePadding":5}},
"y":{"field":"c","type":"quantitative","scale":{"domain":[0,4],"nice":false},"axis":{"values":[0,1,2,3,4],"title":"C [mM]","labelPadding":15,"titlePadding":19}},
"color":{"field":"s","type":"nominal","scale":{"domain":["R 1","R 2","R 3","R 4"],"range":["#000000","#1f1f1f","#4d4d4d","#8c8c8c"]}}},
"layer":[{"mark":{"type":"line","strokeWidth":2},"encoding":{}},{"mark":{"type":"point","filled":true,"size":80,"opacity":1,"strokeWidth":0},"encoding":{}}]},
{"title":{"text":"(C)","offset":10},"width":585,"height":204,"data":{"name":"C"},
"encoding":{
"x":{"field":"t","type":"quantitative","scale":{"domain":[0,16],"nice":false},"axis":{"values":[0,2,4,6,8,10,12,14,16],"title":"t [h]","labelPadding":15,"titlePadding":-5}},
"y":{"field":"c","type":"quantitative","scale":{"domain":[0,4],"nice":false},"axis":{"values":[0,1,2,3,4],"title":"C [mM]","labelPadding":18,"titlePadding":19}},
"color":{"field":"s","type":"nominal","scale":{"domain":["R 1","R 2","R 3","R 4"],"range":["#000000","#1f1f1f","#4d4d4d","#8c8c8c"]}}},
"layer":[{"mark":{"type":"line","strokeWidth":2},"encoding":{}},{"mark":{"type":"point","filled":true,"size":80,"opacity":1,"strokeWidth":0},"encoding":{}}]},
{"title":{"text":"(D)","offset":11},"width":583,"height":200,"data":{"name":"D"},
"encoding":{
"x":{"field":"t","type":"quantitative","scale":{"domain":[0,16],"nice":false},"axis":{"values":[0,2,4,6,8,10,12,14,16],"title":"t [h]","labelPadding":17,"titlePadding":-3}},
"y":{"field":"c","type":"quantitative","scale":{"domain":[0,4],"nice":false},"axis":{"values":[0,1,2,3,4],"title":"C [mM]","labelPadding":17,"titlePadding":29}},
"color":{"field":"s","type":"nominal","scale":{"domain":["R 1","R 2","R 3","R 4"],"range":["#000000","#1f1f1f","#4d4d4d","#8c8c8c"]}}},
"layer":[{"mark":{"type":"line","strokeWidth":2},"encoding":{}},{"mark":{"type":"point","filled":true,"size":80,"opacity":1,"strokeWidth":0},"encoding":{}}]}
]
}
